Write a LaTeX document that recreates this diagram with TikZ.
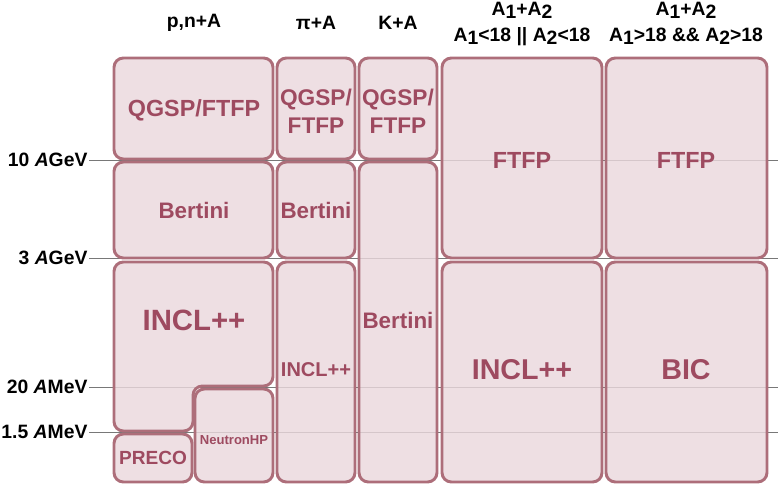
\documentclass[tikz,border=0pt]{standalone}
\usepackage{fontspec}
\setmainfont{Liberation Sans}
\usepackage{xcolor}
\definecolor{boxfill}{RGB}{234,216,221}
\definecolor{boxline}{RGB}{173,110,122}
\definecolor{boxtext}{RGB}{158,74,96}
\definecolor{gridgray}{RGB}{120,120,120}
\newcommand{\fs}[1]{\fontsize{#1}{#1}\selectfont}
\newcommand{\lo}[1]{\raisebox{-0.3ex}{#1}}
\tikzset{
  modbox/.style={draw=boxline,line width=2.2pt,fill=boxfill,fill opacity=0.82,rounded corners=7pt},
  model/.style={text=boxtext,font=\bfseries\fs{17.5},align=center,inner sep=0pt},
  energy/.style={anchor=east,font=\bfseries\fs{14.5},inner sep=1pt},
  head/.style={font=\bfseries\fs{14.5},align=center,inner sep=0pt},
  eline/.style={gridgray,line width=0.6pt}
}
\begin{document}
\begin{tikzpicture}[x=0.75pt,y=-0.75pt]
 \useasboundingbox (0,0) rectangle (778,486);

 % energy scale
 \node[energy] (e10g) at (89,160) {10 \textit{A}GeV};
 \node[energy] (e3g) at (89,258) {3 \textit{A}GeV};
 \node[energy] (e20m) at (89,387) {20 \textit{A}MeV};
 \node[energy] (e15m) at (89,432) {1.5 \textit{A}MeV};
 \coordinate (r10g) at (778,160);
 \coordinate (r3g) at (778,258);
 \coordinate (r20m) at (778,387);
 \coordinate (r15m) at (778,432);
 \draw[eline] (e10g.east) -- (r10g);
 \draw[eline] (e3g.east) -- (r3g);
 \draw[eline] (e20m.east) -- (r20m);
 \draw[eline] (e15m.east) -- (r15m);

 % column heads
 \node[head] (hpn) at (194,23) {p,n+A};
 \node[head] (hpi) at (316,23) {π+A};
 \node[head] (hk) at (398,23) {K+A};
 \node[head,text depth=0pt] (hlight) at (522,22) {A\lo{1}+A\lo{2}\\[5pt] A\lo{1}<18 || A\lo{2}<18};
 \node[head,text depth=0pt] (hheavy) at (686,22) {A\lo{1}+A\lo{2}\\[5pt] A\lo{1}>18 \&\& A\lo{2}>18};

 % p,n+A
 \draw[modbox] (114,58) rectangle (273,159);
 \draw[modbox] (114,162) rectangle (273,258);
 \draw[modbox] (114,262) -- (273,262) -- (273,386) -- (193,386) -- (193,431) -- (114,431) -- cycle;
 \draw[modbox] (114,434) rectangle (192,482);
 \draw[modbox] (195,389) rectangle (273,482);
 \node[model] (qgsppn) at (194,110) {QGSP/FTFP};
 \node[model,font=\bfseries\fs{16.8}] (bertpn) at (194,210) {Bertini};
 \node[model,font=\bfseries\fs{22}] (inclpn) at (194,320) {INCL++};
 \node[model,font=\bfseries\fs{14.3}] (preco) at (153,458) {PRECO};
 \node[model,font=\bfseries\fs{9.8}] (nhp) at (234,440) {NeutronHP};

 % pi+A
 \draw[modbox] (277,58) rectangle (355,159);
 \draw[modbox] (277,162) rectangle (355,258);
 \draw[modbox] (277,262) rectangle (355,482);
 \node[model,font=\bfseries\fs{17},text depth=0pt] (qgsppi) at (316,111) {QGSP/\\[4pt]FTFP};
 \node[model,font=\bfseries\fs{16.8}] (bertpi) at (316,210) {Bertini};
 \node[model,font=\bfseries\fs{15}] (inclpi) at (316,370) {INCL++};

 % K+A
 \draw[modbox] (359,58) rectangle (437,159);
 \draw[modbox] (359,162) rectangle (437,482);
 \node[model,font=\bfseries\fs{17},text depth=0pt] (qgspk) at (398,111) {QGSP/\\[4pt]FTFP};
 \node[model,font=\bfseries\fs{16.8}] (bertk) at (398,320) {Bertini};

 % A1+A2, light
 \draw[modbox] (442,58) rectangle (602,258);
 \draw[modbox] (442,262) rectangle (602,482);
 \node[model] (ftfplight) at (522,160) {FTFP};
 \node[model,font=\bfseries\fs{21.5}] (incllight) at (522,370) {INCL++};

 % A1+A2, heavy
 \draw[modbox] (606,58) rectangle (767,258);
 \draw[modbox] (606,262) rectangle (767,482);
 \node[model] (ftfpheavy) at (686,160) {FTFP};
 \node[model,font=\bfseries\fs{21.5}] (bic) at (686,370) {BIC};
\end{tikzpicture}
\end{document}
